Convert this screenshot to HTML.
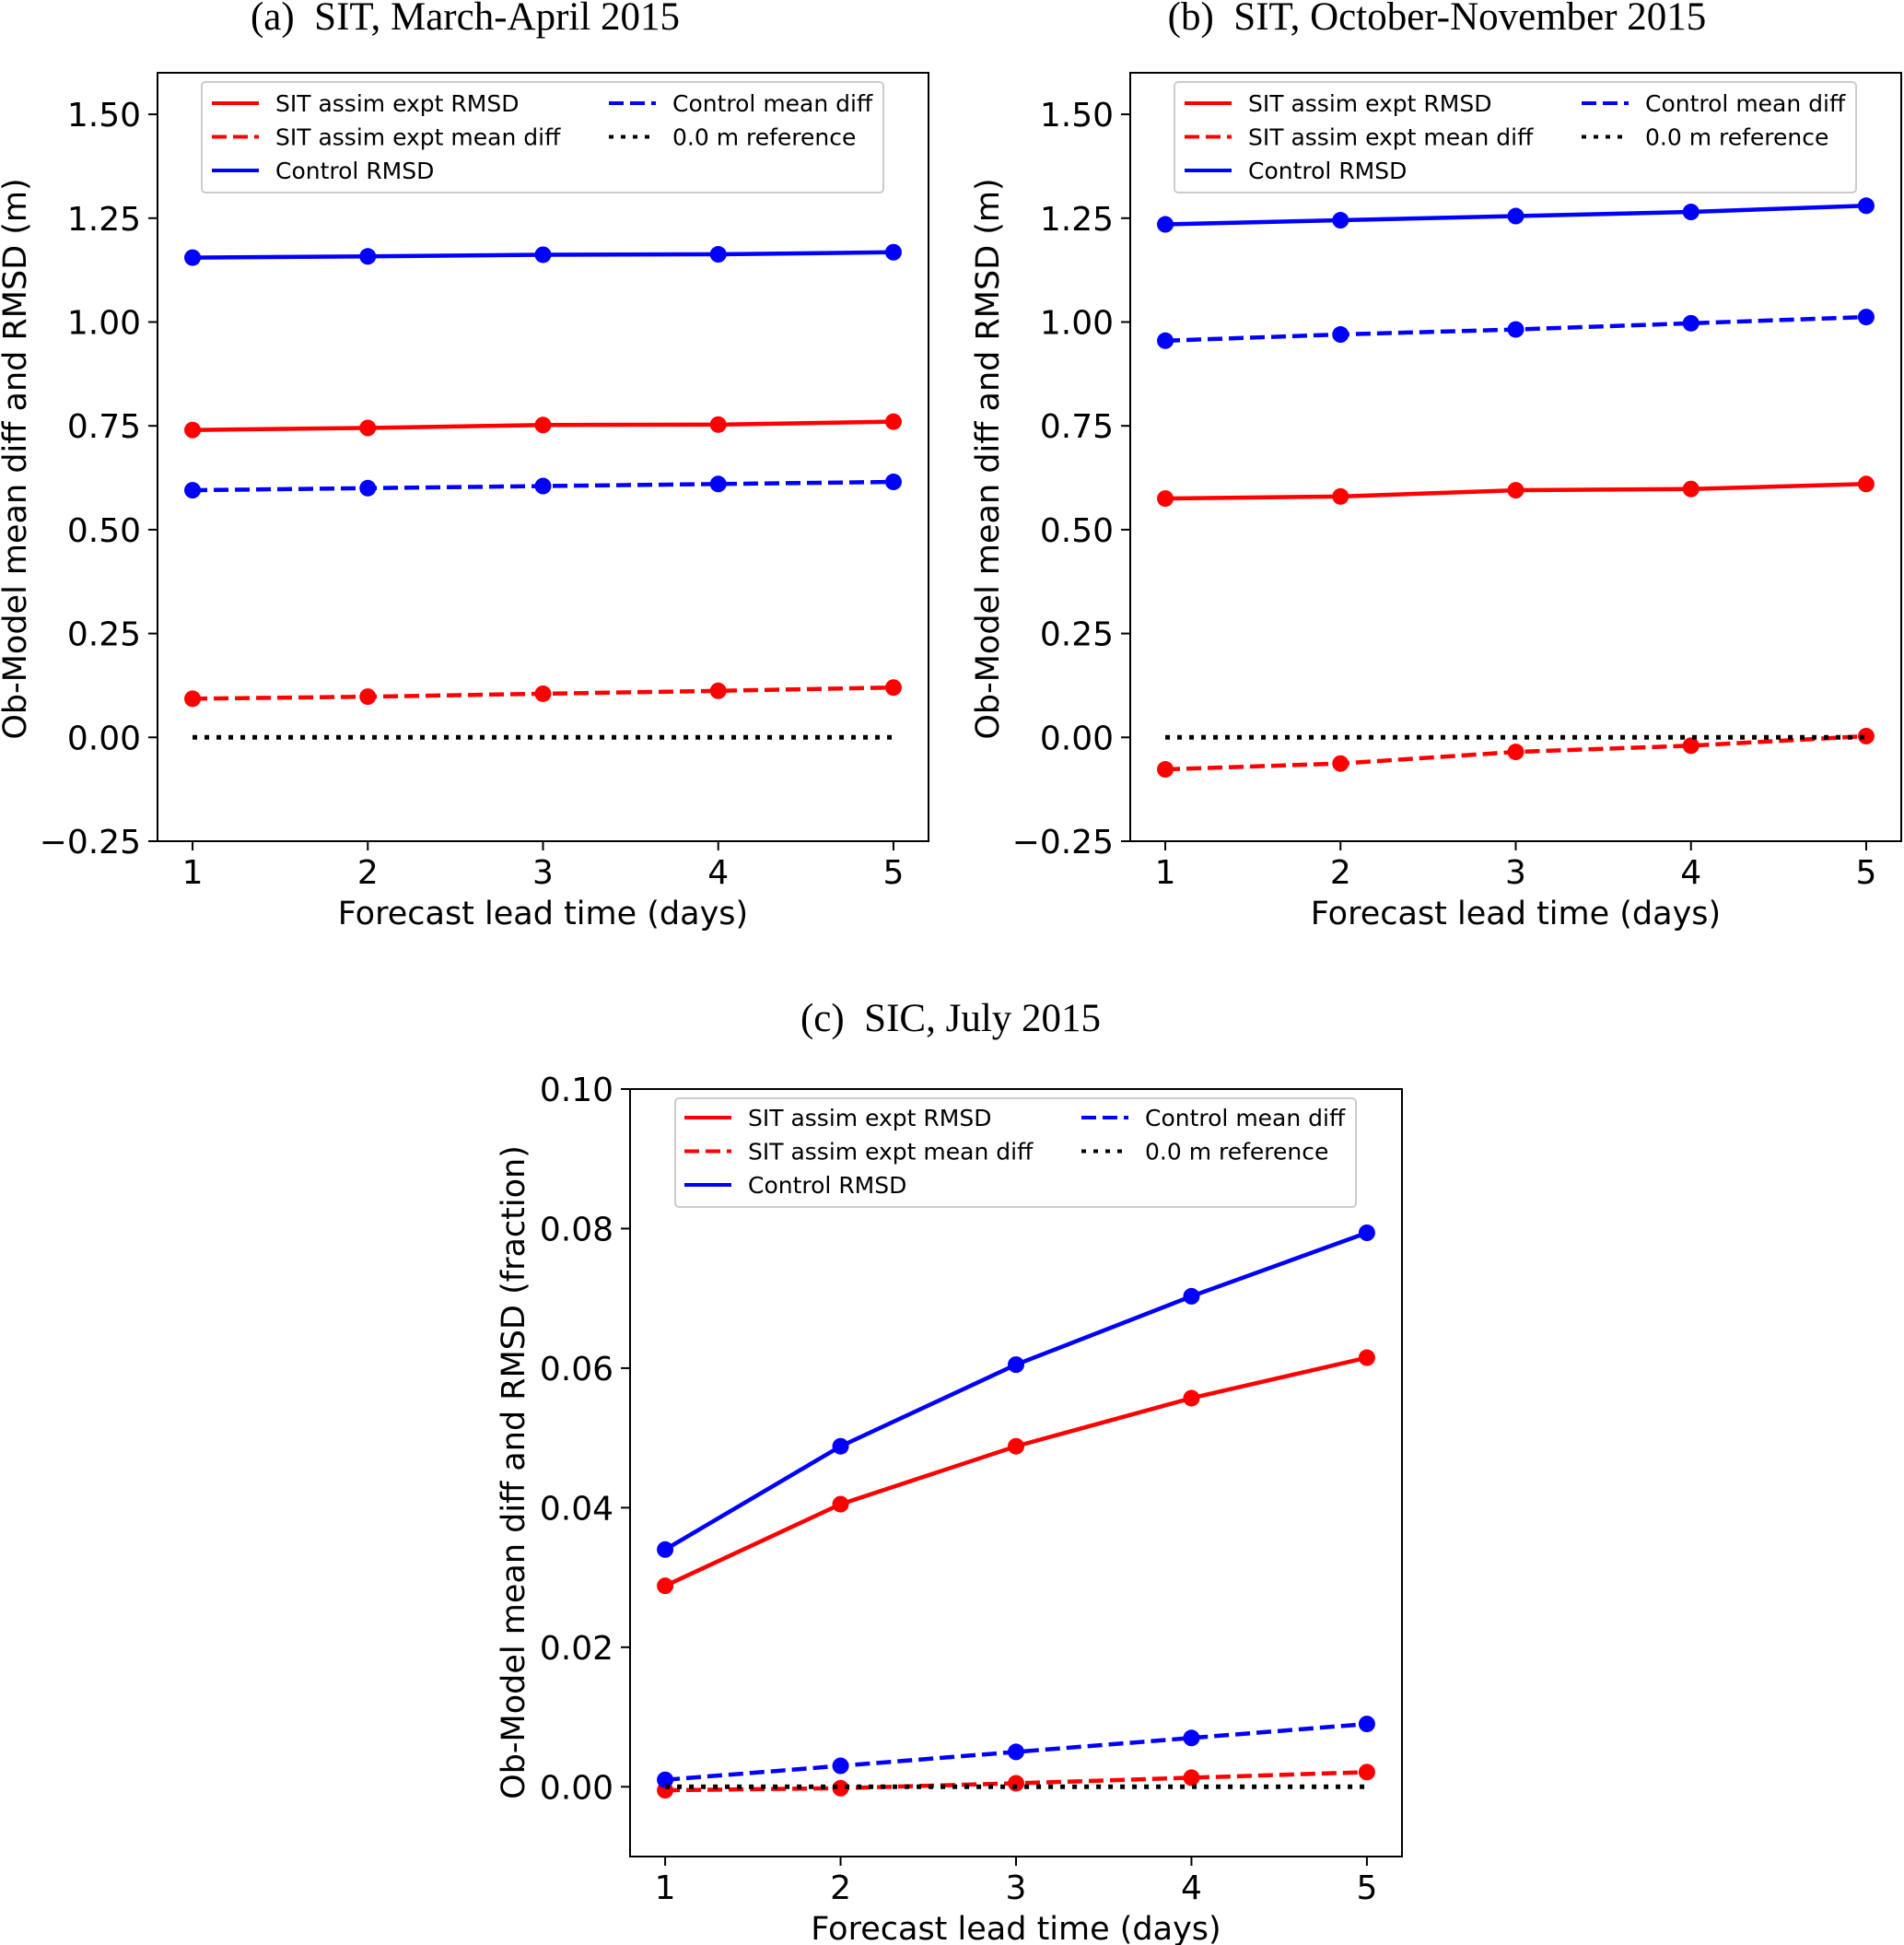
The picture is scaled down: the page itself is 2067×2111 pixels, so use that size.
<!DOCTYPE html>
<html><head><meta charset="utf-8"><style>
html,body{margin:0;padding:0;background:#fff}
svg{display:block}
text{font-family:"DejaVu Sans","Liberation Sans",sans-serif;fill:#000}
.ttl{font-family:"Liberation Serif",serif;font-size:43px;white-space:pre}
</style></head><body>
<svg id="fig" width="2067" height="2111" viewBox="0 0 2067 2111" xmlns="http://www.w3.org/2000/svg"></svg>
<script>
const days = [1, 2, 3, 4, 5];
const aSitRmsd = [0.74, 0.745, 0.752, 0.753, 0.76];
const aSitMean = [0.093, 0.098, 0.105, 0.112, 0.12];
const aCtlRmsd = [1.155, 1.158, 1.162, 1.163, 1.168];
const aCtlMean = [0.595, 0.60, 0.605, 0.61, 0.615];
const bSitRmsd = [0.575, 0.58, 0.595, 0.598, 0.61];
const bSitMean = [-0.077, -0.063, -0.035, -0.02, 0.003];
const bCtlRmsd = [1.235, 1.245, 1.255, 1.265, 1.28];
const bCtlMean = [0.955, 0.97, 0.982, 0.997, 1.012];
const cSitRmsd = [0.0288, 0.0405, 0.0488, 0.0557, 0.0615];
const cSitMean = [-0.0005, -0.0002, 0.0005, 0.0013, 0.0021];
const cCtlRmsd = [0.034, 0.0488, 0.0605, 0.0703, 0.0794];
const cCtlMean = [0.001, 0.003, 0.005, 0.007, 0.009];
const refLine = [0, 0, 0, 0, 0];
const abTicks = [-0.25, 0, 0.25, 0.5, 0.75, 1.0, 1.25, 1.5];
const abTickLabels = ["\u22120.25", "0.00", "0.25", "0.50", "0.75", "1.00", "1.25", "1.50"];
const cTicks = [0, 0.02, 0.04, 0.06, 0.08, 0.10];
const cTickLabels = ["0.00", "0.02", "0.04", "0.06", "0.08", "0.10"];

const NS = "http://www.w3.org/2000/svg";
const fig = document.getElementById('fig');
function mk(tag, attrs, parent) {
  const e = document.createElementNS(NS, tag);
  for (const k in attrs) e.setAttribute(k, attrs[k]);
  (parent || fig).appendChild(e);
  return e;
}

function panel(id, L, R, T, B, ymin, ymax, ticks, tickLabels, series, title, titleX, titleY, ylabel, ylx, yly, leg) {
  const g = mk('g', {});
  
  
  const xs = v => L + (v - 0.8) / 4.4 * (R - L);
  const ys = v => B - (v - ymin) / (ymax - ymin) * (B - T);
  const t = mk('text', {x: titleX, y: titleY, class: 'ttl', 'text-anchor': 'middle'}, g);
  t.textContent = title;
  
  
  ticks.forEach((v, i) => {
    const y = ys(v);
    mk('line', {x1: L - 10, x2: L, y1: y, y2: y, stroke: '#000', 'stroke-width': 2}, g);
    const tl = mk('text', {x: L - 18, y: y + 13, 'font-size': 36, 'text-anchor': 'end'}, g);
    tl.textContent = tickLabels[i];
    
    
  });
  days.forEach(d => {
    const x = xs(d);
    mk('line', {x1: x, x2: x, y1: B, y2: B + 10, stroke: '#000', 'stroke-width': 2}, g);
    const tl = mk('text', {x: x, y: B + 46, 'font-size': 36, 'text-anchor': 'middle'}, g);
    tl.textContent = String(d);
    
    
  });
  const xl = mk('text', {x: (L + R) / 2, y: B + 90, 'font-size': 35, 'text-anchor': 'middle'}, g);
  xl.textContent = 'Forecast lead time (days)';
  
  
  const yl = mk('text', {x: 0, y: 0, 'font-size': 35, 'text-anchor': 'middle', transform: `translate(${ylx},${yly}) rotate(-90)`}, g);
  yl.textContent = ylabel;
  
  
  series.forEach(s => {
    const pts = days.map((d, i) => xs(d) + ',' + ys(s.v[i])).join(' ');
    const pl = mk('polyline', {points: pts, fill: 'none', stroke: s.c, 'stroke-width': s.ref ? 5 : 4.5, 'stroke-dasharray': s.dash || 'none'}, g);
    
    
    if (!s.ref) days.forEach((d, i) => {
      const c = mk('circle', {cx: xs(d), cy: ys(s.v[i]), r: 9, fill: s.c}, g);
      
      
    });
  });
  mk('rect', {x: L, y: T, width: R - L, height: B - T, fill: 'none', stroke: '#000', 'stroke-width': 2}, g);
  const lg = mk('g', {}, g);
  
  
  mk('rect', {x: leg.x, y: leg.y, width: leg.w, height: leg.h, rx: 4, fill: '#fff', 'fill-opacity': 0.8, stroke: '#ccc', 'stroke-width': 2}, lg);
  const entries = [
    [series[0], 0, 0, 'SIT assim expt RMSD'],
    [series[1], 0, 1, 'SIT assim expt mean diff'],
    [series[2], 0, 2, 'Control RMSD'],
    [series[3], 1, 0, 'Control mean diff'],
    [series[4], 1, 1, '0.0 m reference']
  ];
  entries.forEach(e => {
    const s = e[0];
    const hx = e[1] ? leg.hx2 : leg.hx1;
    const y = leg.ry + e[2] * 36.5;
    mk('line', {x1: hx, x2: hx + 51, y1: y, y2: y, stroke: s.c, 'stroke-width': 4, 'stroke-dasharray': s.dash || 'none'}, lg);
    const tx = mk('text', {x: hx + 69, y: y + 9, 'font-size': 25}, lg);
    tx.textContent = e[3];
    
    
  });
}

const DASH = '16,7';
const DOT = '5,8';
function mkSeries(sr, sm, cr, cm) {
  return [
    {name: 'sit-assim-rmsd-line', v: sr, c: '#ff0000'},
    {name: 'sit-assim-mean-diff-line', v: sm, c: '#ff0000', dash: DASH},
    {name: 'control-rmsd-line', v: cr, c: '#0000ff'},
    {name: 'control-mean-diff-line', v: cm, c: '#0000ff', dash: DASH},
    {name: 'reference-line', v: refLine, c: '#000', dash: DOT, ref: true}
  ];
}
const aSeries = mkSeries(aSitRmsd, aSitMean, aCtlRmsd, aCtlMean);
const bSeries = mkSeries(bSitRmsd, bSitMean, bCtlRmsd, bCtlMean);
const cSeries = mkSeries(cSitRmsd, cSitMean, cCtlRmsd, cCtlMean);

const ylab = 'Ob-Model mean diff and RMSD (m)';
panel('a', 171, 1008, 79, 913, -0.25, 1.6, abTicks, abTickLabels, aSeries,
  '(a)  SIT, March-April 2015', 505, 32, ylab, 28, 498,
  {x: 219, y: 89, w: 740, h: 120, hx1: 230, hx2: 661, ry: 112});
panel('b', 1227, 2064, 79, 913, -0.25, 1.6, abTicks, abTickLabels, bSeries,
  '(b)  SIT, October-November 2015', 1560, 32, ylab, 1084, 498,
  {x: 1275, y: 89, w: 740, h: 120, hx1: 1286, hx2: 1717, ry: 112});
panel('c', 684, 1522, 1182, 2015, -0.01, 0.1, cTicks, cTickLabels, cSeries,
  '(c)  SIC, July 2015', 1032, 1119, 'Ob-Model mean diff and RMSD (fraction)', 569, 1598,
  {x: 733, y: 1192, w: 739, h: 118, hx1: 743, hx2: 1174, ry: 1213});
</script>
</body></html>
